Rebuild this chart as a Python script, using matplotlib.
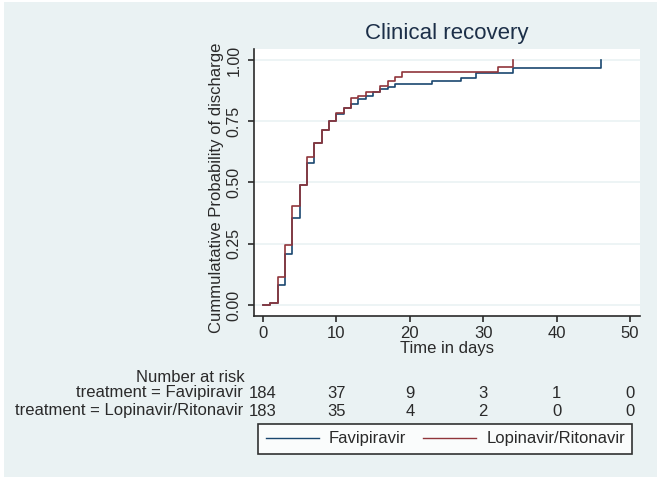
#!/usr/bin/env python3
import matplotlib
matplotlib.use("Agg")
import matplotlib.pyplot as plt
from matplotlib.patches import Rectangle
from matplotlib.transforms import blended_transform_factory

plt.rcParams['font.family'] = ['Liberation Sans', 'DejaVu Sans']

# Kaplan-Meier style cumulative discharge curves
fav_days = [0, 1, 2, 3, 4, 5, 6, 7, 8, 9, 10, 11, 12, 13, 14, 15, 16, 17, 18,
            23, 27, 29, 34, 46]
fav_prob = [0, 0.01, 0.08, 0.21, 0.355, 0.49, 0.58, 0.66, 0.715, 0.75, 0.78,
            0.805, 0.82, 0.84, 0.855, 0.868, 0.88, 0.89, 0.902,
            0.915, 0.928, 0.948, 0.967, 1.0]

lop_days = [0, 1, 2, 3, 4, 5, 6, 7, 8, 9, 10, 11, 12, 13, 14, 16, 17, 18, 19,
            32, 34]
lop_prob = [0, 0.01, 0.115, 0.245, 0.405, 0.49, 0.605, 0.66, 0.715, 0.75,
            0.785, 0.805, 0.845, 0.855, 0.87, 0.893, 0.915, 0.93, 0.95,
            0.972, 1.0]

# number at risk table
risk_times = [0, 10, 20, 30, 40, 50]
risk_fav = [184, 37, 9, 3, 1, 0]
risk_lop = [183, 35, 4, 2, 0, 0]

xticks = [0, 10, 20, 30, 40, 50]
yticks = [0, 0.25, 0.5, 0.75, 1.0]
ytick_labels = ['0.00', '0.25', '0.50', '0.75', '1.00']

navy = '#1a476f'
maroon = '#90353b'
bg = '#eaf2f3'
dark = '#2a2a2a'

W, H = 661, 497
fig = plt.figure(figsize=(W / 100, H / 100), dpi=100, facecolor='white')

# graph region (light bluish grey)
fig.patches.append(Rectangle((4 / W, 1 - 477 / H), 653 / W, 475 / H,
                             transform=fig.transFigure, facecolor=bg,
                             edgecolor='none', zorder=-10))

ax = fig.add_axes([254 / W, 1 - 316 / H, (640 - 254) / W, (316 - 49) / H])
ax.set_facecolor('white')

ax.step(fav_days, fav_prob, where='post', color=navy, lw=1.2,
        label='Favipiravir', zorder=3)
ax.step(lop_days, lop_prob, where='post', color=maroon, lw=1.2,
        label='Lopinavir/Ritonavir', zorder=4)

ax.set_xlim(-1.23, 51.37)
ax.set_ylim(-0.045, 1.045)

for y in yticks:
    ax.axhline(y, color=bg, lw=1.2, zorder=1)

for s in ['top', 'right']:
    ax.spines[s].set_visible(False)
for s in ['left', 'bottom']:
    ax.spines[s].set_color(dark)
    ax.spines[s].set_linewidth(1.2)

ax.set_xticks(xticks)
ax.set_xticklabels([str(t) for t in xticks], fontsize=12, color=dark)
ax.set_yticks(yticks)
ax.set_yticklabels(ytick_labels, fontsize=11.5, color=dark, rotation=90,
                   va='center')
ax.tick_params(axis='both', direction='out', length=4, width=1.2,
               colors=dark, labelcolor=dark)
ax.tick_params(axis='x', pad=3)
ax.tick_params(axis='y', pad=5)

ax.set_xlabel('Time in days', fontsize=12, color=dark)
ax.xaxis.set_label_coords(0.5, -0.092)
ax.set_ylabel('Cummulatative Probability of discharge', fontsize=12,
              color=dark)
ax.yaxis.set_label_coords(-0.078, 0.48)

ax.set_title('Clinical recovery', fontsize=16, color='#1c2f48', pad=7)

# number at risk
fig.text(190 / W, 1 - 377 / H, 'Number at risk', fontsize=12, color=dark,
         ha='center', va='center')
trans = blended_transform_factory(ax.transData, fig.transFigure)
rows = [('treatment = Favipiravir', risk_fav, 393),
        ('treatment = Lopinavir/Ritonavir', risk_lop, 411)]
for label, counts, ypx in rows:
    fig.text(243 / W, 1 - ypx / H, label, fontsize=12, color=dark,
             ha='right', va='center')
    for t, n in zip(risk_times, counts):
        ax.text(t, 1 - ypx / H, str(n), transform=trans, fontsize=12,
                color=dark, ha='center', va='center', clip_on=False)

leg = fig.legend(loc='upper left', bbox_to_anchor=(258 / W, 1 - 424 / H),
                 ncol=2, fontsize=12, frameon=True, fancybox=False,
                 borderaxespad=0, borderpad=0.45, handlelength=3.2,
                 handletextpad=0.6, columnspacing=1.0)
leg.get_frame().set_edgecolor('black')
leg.get_frame().set_linewidth(1.2)
leg.get_frame().set_facecolor('white')
for line in leg.get_lines():
    line.set_linewidth(1.0)
for txt in leg.get_texts():
    txt.set_color(dark)

fig.savefig('out.png', dpi=100, facecolor='white')
